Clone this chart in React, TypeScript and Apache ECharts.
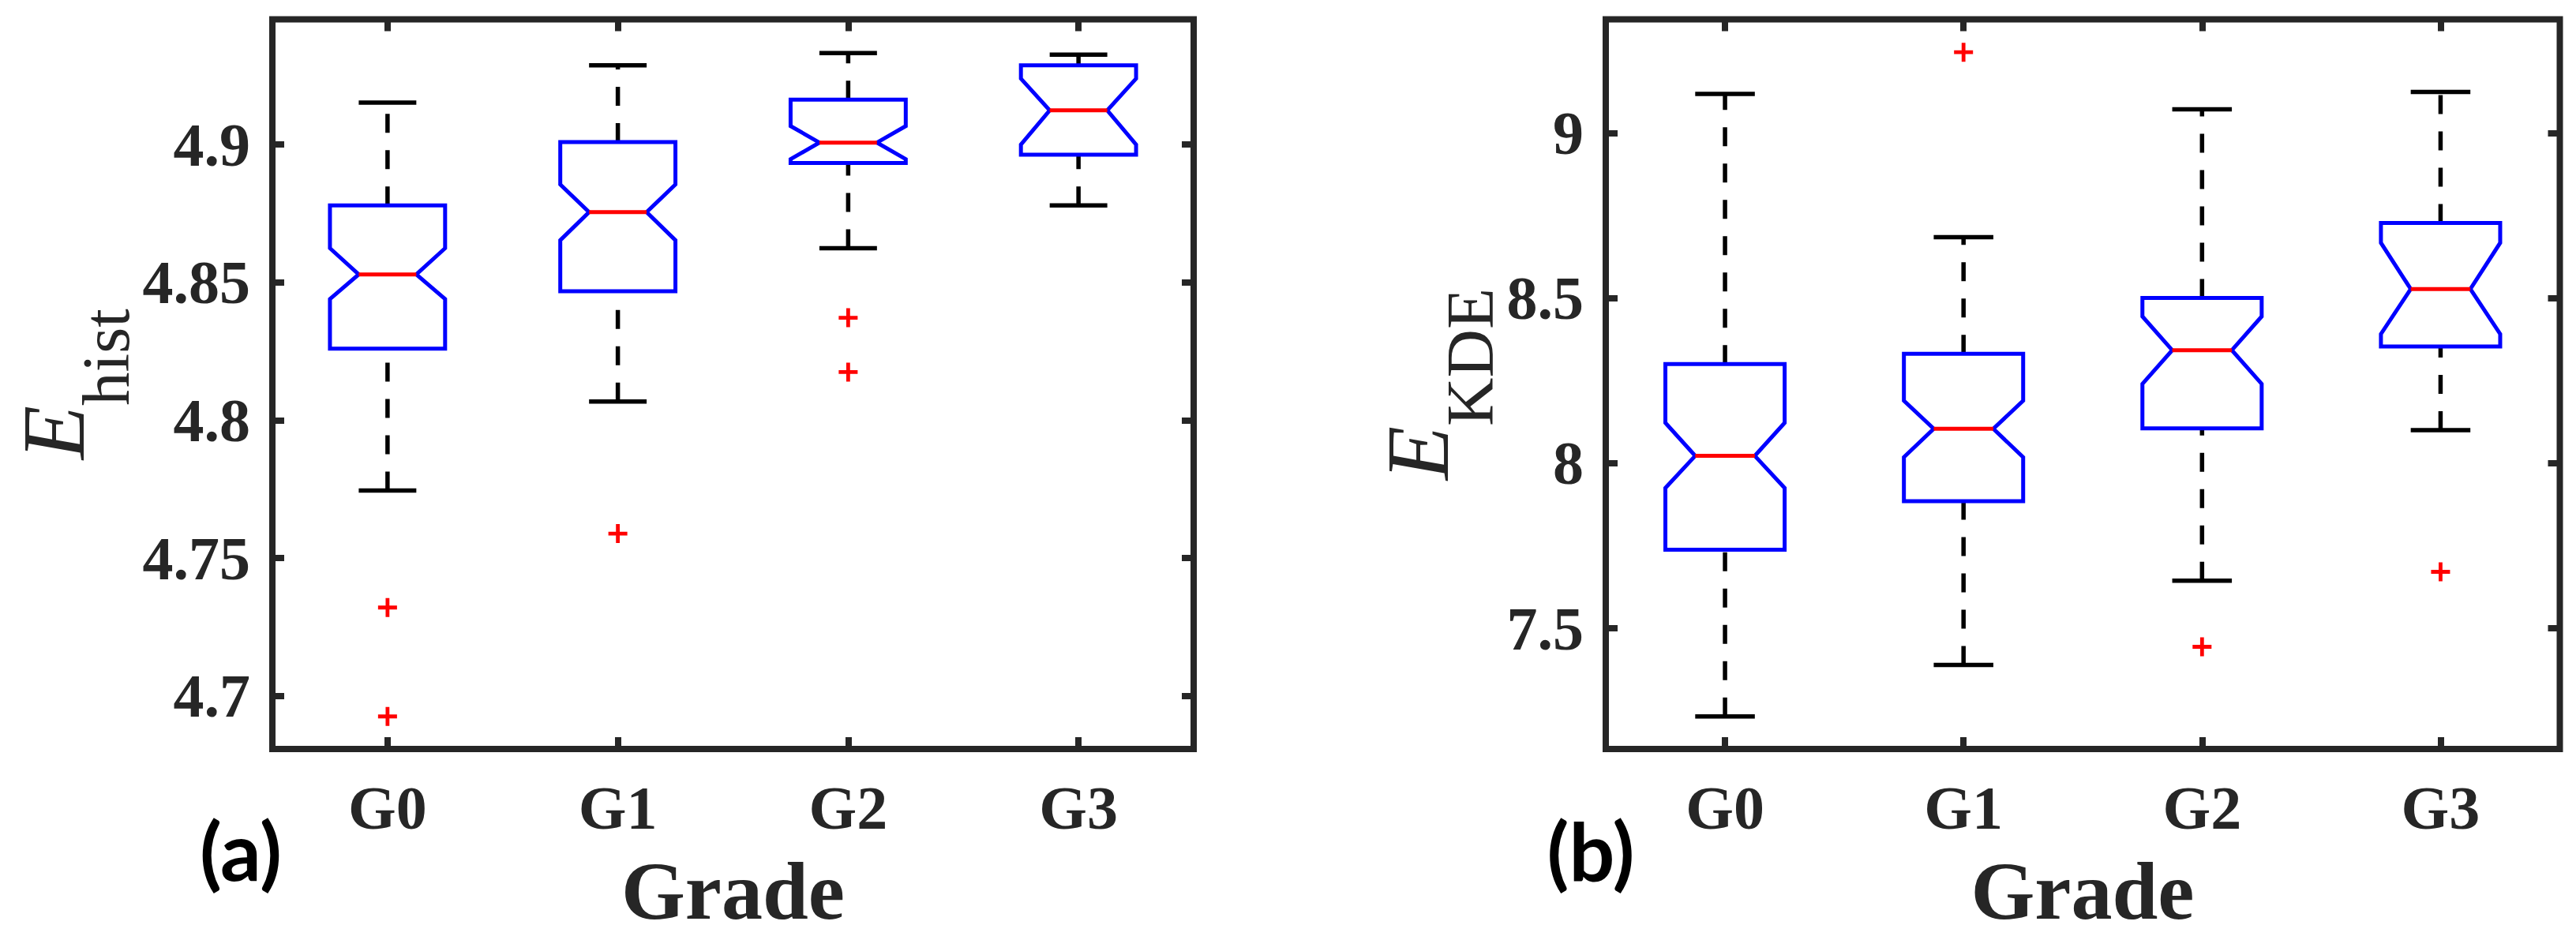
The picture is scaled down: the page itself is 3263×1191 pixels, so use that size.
import React, { useEffect, useRef } from 'react';
import * as echarts from 'echarts';

// ---------- data ----------
const categories = ['G0', 'G1', 'G2', 'G3'];

// (a) E_hist
const histWhiskerLow = [4.7745, 4.8068, 4.8624, 4.8779];
const histQ1 = [4.826, 4.8468, 4.8933, 4.8963];
const histNotchLow = [4.844, 4.8653, 4.8947, 4.9];
const histMedian = [4.8529, 4.8755, 4.9007, 4.9124];
const histNotchHigh = [4.8624, 4.8855, 4.9067, 4.9239];
const histQ3 = [4.8779, 4.9009, 4.9163, 4.9287];
const histWhiskerHigh = [4.9152, 4.9287, 4.9332, 4.9326];
const histOutlierGroup = ['G0', 'G0', 'G1', 'G2', 'G2'];
const histOutlierValue = [4.7321, 4.6926, 4.7589, 4.8372, 4.8175];
const histTicks = [4.7, 4.75, 4.8, 4.85, 4.9];
const histRange = [4.6808, 4.9454];

// (b) E_KDE
const kdeWhiskerLow = [7.233, 7.389, 7.644, 8.1];
const kdeQ1 = [7.738, 7.885, 8.105, 8.353];
const kdeNotchLow = [7.925, 8.018, 8.24, 8.391];
const kdeMedian = [8.022, 8.104, 8.342, 8.527];
const kdeNotchHigh = [8.122, 8.189, 8.444, 8.667];
const kdeQ3 = [8.3, 8.331, 8.5, 8.727];
const kdeWhiskerHigh = [9.118, 8.684, 9.071, 9.124];
const kdeOutlierGroup = ['G1', 'G2', 'G3'];
const kdeOutlierValue = [9.244, 7.444, 7.671];
const kdeTicks = [7.5, 8, 8.5, 9];
const kdeRange = [7.1345, 9.3436];

// ---------- styles ----------
const FRAME = '#262626';
const SERIF = '"Liberation Serif", "Times New Roman", serif';
const PLUS = 'path://M40,0H60V40H100V60H60V100H40V60H0V40H40Z';

function renderBox(params: any, api: any) {
  const i = api.value(0);
  const wl = api.value(1), q1 = api.value(2), nl = api.value(3), med = api.value(4);
  const nh = api.value(5), q3 = api.value(6), wh = api.value(7);
  const band = api.size([1, 0])[0];
  const hw = band * 0.25, nw = band * 0.125, cw = band * 0.125;
  const pt = (val: number, dx: number) => {
    const p = api.coord([i, val]);
    return [p[0] + dx, p[1]];
  };
  const seg = (a: number[], b: number[], style: any) => ({
    type: 'line',
    shape: { x1: a[0], y1: a[1], x2: b[0], y2: b[1] },
    style,
  });
  const dashed = { stroke: '#000', lineWidth: 5.5, lineDash: [24, 22], fill: null };
  const solid = { stroke: '#000', lineWidth: 5.5, fill: null };
  const poly = [
    pt(q1, -hw), pt(nl, -hw), pt(med, -nw), pt(nh, -hw), pt(q3, -hw),
    pt(q3, hw), pt(nh, hw), pt(med, nw), pt(nl, hw), pt(q1, hw),
  ];
  return {
    type: 'group',
    children: [
      seg(pt(wl, 0), pt(q1, 0), dashed),
      seg(pt(q3, 0), pt(wh, 0), dashed),
      seg(pt(wl, -cw), pt(wl, cw), solid),
      seg(pt(wh, -cw), pt(wh, cw), solid),
      {
        type: 'polygon',
        shape: { points: poly },
        style: { fill: 'none', stroke: '#0000ff', lineWidth: 5, lineJoin: 'miter' },
      },
      seg(pt(med, -nw), pt(med, nw), { stroke: '#ff0000', lineWidth: 5, fill: null }),
    ],
  };
}

function buildPanel(
  g: number,
  stats: number[][],
  outGroup: string[],
  outVal: number[],
  ticks: number[],
  range: number[],
  sub: string,
  nameGap: number
) {
  const tickStyle = { color: FRAME, width: 8 };
  const xBase = {
    type: 'category',
    gridIndex: g,
    data: categories,
    boundaryGap: true,
    axisLine: { show: false },
    axisTick: { show: true, inside: true, alignWithLabel: true, length: 15, lineStyle: tickStyle },
    splitLine: { show: false },
  };
  const xAxes = [
    {
      ...xBase,
      position: 'bottom',
      axisLabel: {
        show: true, margin: 35, color: FRAME, fontFamily: SERIF, fontWeight: 'bold', fontSize: 78,
      },
    },
    { ...xBase, position: 'top', axisLabel: { show: false } },
  ];
  const yBase = {
    type: 'value',
    gridIndex: g,
    min: range[0],
    max: range[1],
    axisLine: { show: false },
    axisTick: { show: true, inside: true, length: 15, lineStyle: tickStyle, customValues: ticks },
    splitLine: { show: false },
  };
  const yAxes = [
    {
      ...yBase,
      position: 'left',
      axisLabel: {
        show: true, customValues: ticks, margin: 28, color: FRAME, fontFamily: SERIF,
        fontWeight: 'bold', fontSize: 78, padding: [16, 0, 0, 0],
      },
      name: '{e|E}{s|' + sub + '}',
      nameLocation: 'middle',
      nameRotate: 90,
      nameGap,
      nameTextStyle: {
        color: FRAME,
        rich: {
          e: {
            fontFamily: SERIF, fontStyle: 'italic', fontSize: 112, lineHeight: 112,
            verticalAlign: 'top', color: FRAME,
          },
          s: {
            fontFamily: SERIF, fontSize: 85, lineHeight: 85, padding: [80, 0, 0, 0],
            verticalAlign: 'top', color: FRAME,
          },
        },
      },
    },
    { ...yBase, position: 'right', axisLabel: { show: false } },
  ];
  const boxData = categories.map((_, i) => [i, ...stats.map((s) => s[i])]);
  const series = [
    {
      type: 'custom',
      xAxisIndex: g * 2,
      yAxisIndex: g * 2,
      renderItem: renderBox,
      data: boxData,
      encode: { x: 0, y: [1, 2, 3, 4, 5, 6, 7] },
      clip: false,
      z: 3,
    },
    {
      type: 'scatter',
      xAxisIndex: g * 2,
      yAxisIndex: g * 2,
      symbol: PLUS,
      symbolSize: 24,
      itemStyle: { color: '#ff0000', opacity: 1 },
      data: outGroup.map((c, k) => [c, outVal[k]]),
      z: 4,
    },
  ];
  return { xAxes, yAxes, series };
}

export default function App() {
  const ref = useRef<HTMLDivElement>(null);
  useEffect(() => {
    if (!ref.current) return;
    const chart = echarts.init(ref.current, null, { renderer: 'svg' });
    const a = buildPanel(
      0,
      [histWhiskerLow, histQ1, histNotchLow, histMedian, histNotchHigh, histQ3, histWhiskerHigh],
      histOutlierGroup, histOutlierValue, histTicks, histRange, 'hist', 182
    );
    const b = buildPanel(
      1,
      [kdeWhiskerLow, kdeQ1, kdeNotchLow, kdeMedian, kdeNotchHigh, kdeQ3, kdeWhiskerHigh],
      kdeOutlierGroup, kdeOutlierValue, kdeTicks, kdeRange, 'KDE', 140
    );
    const gridStyle = {
      show: true, borderColor: FRAME, borderWidth: 8, backgroundColor: 'transparent',
      containLabel: false, outerBoundsMode: 'none',
    };
    const textStyle = (
      text: string, x: number, y: number, fam: string, size: number, fill: string
    ) => ({
      type: 'text',
      x,
      y,
      style: {
        text, fontFamily: fam, fontWeight: 'bold', fontSize: size, fill,
        align: 'center', verticalAlign: 'middle', textAlign: 'center', textVerticalAlign: 'middle',
      },
    });
    chart.setOption({
      animation: false,
      backgroundColor: '#ffffff',
      grid: [
        { ...gridStyle, left: 345, top: 24.5, width: 1167, height: 924.5 },
        { ...gridStyle, left: 2034, top: 24.5, width: 1208.5, height: 924.5 },
      ],
      xAxis: [...a.xAxes, ...b.xAxes],
      yAxis: [...a.yAxes, ...b.yAxes],
      series: [...a.series, ...b.series],
      graphic: [
        textStyle('(a)', 305, 1076, 'Lato', 102, '#000'),
        textStyle('(b)', 2015, 1076, 'Lato', 102, '#000'),
        textStyle('Grade', 928.5, 1128, SERIF, 104, FRAME),
        textStyle('Grade', 2638, 1128, SERIF, 104, FRAME),
      ],
    });
    return () => chart.dispose();
  }, []);
  return (
    <div
      ref={ref}
      style={{ position: 'fixed', left: 0, top: 0, width: '3263px', height: '1191px', background: '#fff' }}
    />
  );
}
